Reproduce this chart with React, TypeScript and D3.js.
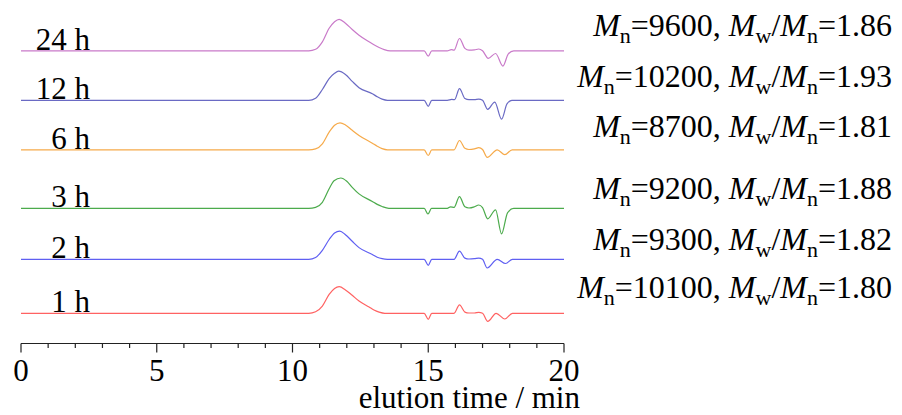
import React from "react";
import * as d3 from "d3";

// ---- data (elution time in min, detector signal in arbitrary units) ----
const seriesNames = ["24 h", "12 h", "6 h", "3 h", "2 h", "1 h"];
const seriesOffsets = [9.75, 8.1, 6.45, 4.5, 2.8, 1.0];
const mnValues = ["9600", "10200", "8700", "9200", "9300", "10100"];
const dispersity = ["1.86", "1.93", "1.81", "1.88", "1.82", "1.80"];
const xTicks = [0, 5, 10, 15, 20];
const xMinorTicks = d3.range(0, 21, 1);

const trace24h: [number, number][] = [
  [0, 0], [10.6, 0], [10.85, 0.05], [11.1, 0.3], [11.35, 0.75], [11.55, 0.97], [11.72, 1.05],
  [11.95, 0.92], [12.2, 0.71], [12.45, 0.52], [12.82, 0.3], [13.0, 0.2], [13.19, 0.11], [13.38, 0.04], [13.6, 0],
  [14.85, 0], [15.0, -0.18], [15.13, 0], [15.7, 0], [15.85, 0.04], [15.95, 0.02], [16.15, 0.41],
  [16.35, 0.08], [16.5, 0.02], [16.7, 0.03], [16.86, 0.06], [17.0, 0], [17.21, -0.25], [17.48, -0.09],
  [17.75, -0.51], [17.95, -0.1], [18.15, 0], [20, 0],
];
const trace12h: [number, number][] = [
  [0, 0], [10.6, 0], [10.85, 0.07], [11.1, 0.36], [11.35, 0.72], [11.55, 0.9], [11.7, 0.97],
  [11.95, 0.86], [12.2, 0.63], [12.45, 0.42], [12.94, 0.22], [13.12, 0.12], [13.3, 0.04], [13.5, 0],
  [14.85, 0], [15.0, -0.2], [15.13, 0], [15.7, 0], [15.87, 0.03], [15.97, 0.02], [16.15, 0.39],
  [16.35, 0.06], [16.5, 0.02], [16.7, 0.02], [16.86, 0.04], [17.0, 0], [17.19, -0.3], [17.45, -0.06],
  [17.7, -0.63], [17.9, -0.12], [18.08, 0], [20, 0],
];
const trace6h: [number, number][] = [
  [0, 0], [10.6, 0], [10.85, 0.03], [11.1, 0.2], [11.35, 0.59], [11.55, 0.82], [11.75, 0.9],
  [11.95, 0.83], [12.2, 0.65], [12.45, 0.48], [12.94, 0.22], [13.12, 0.12], [13.3, 0.04], [13.5, 0],
  [14.85, 0], [15.0, -0.19], [15.13, 0], [15.95, 0], [16.15, 0.31],
  [16.35, 0.05], [16.5, 0.01], [16.7, 0.03], [16.86, 0.07], [17.0, 0.01], [17.17, -0.25], [17.54, 0],
  [17.82, -0.16], [18.09, 0], [20, 0],
];
const trace3h: [number, number][] = [
  [0, 0], [10.6, 0], [10.85, 0.03], [11.1, 0.2], [11.35, 0.65], [11.53, 0.92], [11.78, 1.01],
  [12.0, 0.9], [12.2, 0.7], [12.45, 0.48], [12.94, 0.23], [13.12, 0.13], [13.3, 0.06], [13.55, 0],
  [14.85, 0], [14.99, -0.19], [15.12, 0], [15.7, 0], [15.82, 0.05], [15.95, 0.03], [16.15, 0.39],
  [16.35, 0.05], [16.5, 0.01], [16.7, 0.05], [16.86, 0.11], [17.0, 0.02], [17.19, -0.35], [17.48, -0.05],
  [17.7, -0.85], [17.92, -0.15], [18.15, 0], [20, 0],
];
const trace2h: [number, number][] = [
  [0, 0], [10.6, 0], [10.85, 0.06], [11.1, 0.3], [11.35, 0.66], [11.55, 0.88], [11.74, 0.94],
  [11.95, 0.82], [12.2, 0.6], [12.45, 0.39], [12.94, 0.16], [13.12, 0.07], [13.3, 0.02], [13.5, 0],
  [14.85, 0], [15.0, -0.2], [15.13, 0], [15.95, 0], [16.15, 0.27],
  [16.35, 0.04], [16.5, 0.01], [16.7, 0.02], [16.86, 0.04], [17.0, 0], [17.17, -0.29], [17.54, 0],
  [17.85, -0.14], [18.1, 0], [20, 0],
];
const trace1h: [number, number][] = [
  [0, 0], [10.6, 0], [10.85, 0.05], [11.1, 0.24], [11.35, 0.63], [11.55, 0.83], [11.72, 0.89],
  [11.95, 0.78], [12.2, 0.6], [12.45, 0.41], [12.82, 0.21], [13.0, 0.11], [13.19, 0.04], [13.4, 0],
  [14.85, 0], [15.0, -0.2], [15.13, 0], [15.95, 0], [16.15, 0.28],
  [16.35, 0.04], [16.5, 0.01], [16.7, 0.01], [16.86, 0.03], [17.0, 0], [17.19, -0.27], [17.5, 0],
  [17.82, -0.19], [18.1, 0], [20, 0],
];
const traces = [trace24h, trace12h, trace6h, trace3h, trace2h, trace1h];

// ---- layout & style ----
const W = 902;
const H = 415;
const colors = ["#c97ac9", "#6a6ac4", "#f6aa4a", "#4cab4c", "#5f5ff2", "#ff6262"];
const rightLabelY = [36, 87, 137, 199, 250, 298];
const FONT = "'Liberation Serif', 'Times New Roman', Times, serif";

export default function App() {
  const x = d3.scaleLinear().domain([0, 20]).range([21, 564]);
  const y = d3.scaleLinear().domain([0, 10]).range([343.3, 43.3]);
  const axisY = 343.5;

  const line = (off: number) =>
    d3
      .line<[number, number]>()
      .x((d) => x(d[0]))
      .y((d) => y(d[1] + off))
      .curve(d3.curveMonotoneX);

  return (
    <svg
      width={W}
      height={H}
      style={{ position: "absolute", left: 0, top: 0, background: "#fff" }}
      fontFamily={FONT}
    >
      {/* traces */}
      {traces.map((t, i) => (
        <path
          key={i}
          d={line(seriesOffsets[i])(t) || ""}
          fill="none"
          stroke={colors[i]}
          strokeWidth={1.2}
          strokeLinejoin="round"
        />
      ))}

      {/* left labels */}
      {seriesNames.map((n, i) => (
        <text
          key={n}
          x={90}
          y={y(seriesOffsets[i]) - 1}
          textAnchor="end"
          fontSize={31}
          fill="#000"
        >
          {n}
        </text>
      ))}

      {/* right labels */}
      {mnValues.map((mn, i) => (
        <text key={i} x={892} y={rightLabelY[i]} textAnchor="end" fontSize={32} fill="#000">
          <tspan fontStyle="italic">M</tspan>
          <tspan fontSize={22} dy={7}>n</tspan>
          <tspan dy={-7}>{`=${mn}, `}</tspan>
          <tspan fontStyle="italic">M</tspan>
          <tspan fontSize={22} dy={7}>w</tspan>
          <tspan dy={-7}>/</tspan>
          <tspan fontStyle="italic">M</tspan>
          <tspan fontSize={22} dy={7}>n</tspan>
          <tspan dy={-7}>{`=${dispersity[i]}`}</tspan>
        </text>
      ))}

      {/* x axis */}
      <line x1={x(0)} x2={x(20)} y1={axisY} y2={axisY} stroke="#222" strokeWidth={1.2} />
      {xMinorTicks.map((t) => (
        <line
          key={"m" + t}
          x1={x(t)}
          x2={x(t)}
          y1={axisY}
          y2={axisY + (t % 5 === 0 ? 9 : 4.5)}
          stroke="#222"
          strokeWidth={1.2}
        />
      ))}
      {xTicks.map((t) => (
        <text key={"t" + t} x={x(t)} y={381} textAnchor="middle" fontSize={31} fill="#000">
          {t}
        </text>
      ))}
      <text x={580} y={408} textAnchor="end" fontSize={31} fill="#000">
        elution time / min
      </text>
    </svg>
  );
}
